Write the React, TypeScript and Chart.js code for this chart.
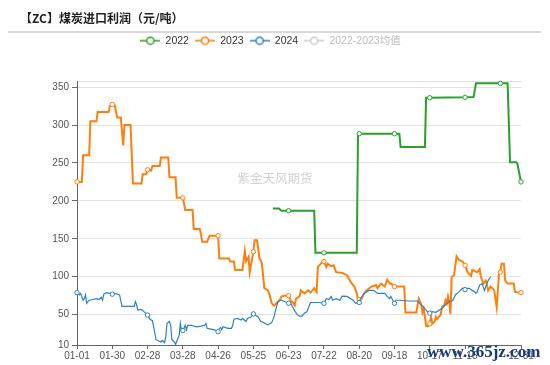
import React, { useEffect, useRef } from 'react';
import { Chart, registerables } from 'chart.js';

Chart.register(...registerables);

const titleText = '【ZC】煤炭进口利润（元/吨）';
const seriesNames = ['2022', '2023', '2024', '2022-2023均值'];
const seriesColors = ['#2ca02c', '#ff7f0e', '#2f80c0', '#cccccc'];

const xTickDays = [0, 29, 58, 87, 116, 145, 174, 203, 232, 261, 290, 319, 365];
const xTickLabels = ['01-01', '01-30', '02-28', '03-28', '04-26', '05-25', '06-23', '07-22', '08-20', '09-18', '10-17', '11-15', '12-31'];
const yTicks = [10, 50, 100, 150, 200, 250, 300, 350];
const yMin = 10;
const yMax = 358;
const markerDays = [0, 29, 58, 87, 116, 145, 174, 203, 232, 261, 290, 319, 348, 365];

const days2022 = [161, 166, 168, 174, 195, 196, 203, 230, 231, 232, 261, 265, 266, 286, 287, 290, 319, 326, 328, 348, 354, 356, 361, 362, 365];
const values2022 = [190, 190, 187, 187, 187, 131.5, 131.5, 131.5, 288.5, 288.5, 288.5, 288.5, 271, 271, 336, 336, 336.5, 337, 355, 355, 355, 251, 251, 249, 225];

const days2023 = [0, 4, 5, 10, 11, 16, 17, 26, 27, 29, 31, 33, 36, 38, 39, 44, 46, 53, 54, 57, 58, 61, 62, 68, 69, 75, 76, 81, 82, 87, 89, 95, 96, 101, 103, 107, 109, 116, 117, 125, 126, 129, 130, 136, 138, 139, 141, 142, 145, 146, 148, 150, 151, 152, 154, 157, 158, 159, 160, 162, 164, 167, 168, 170, 174, 176, 177, 179, 180, 183, 184, 187, 190, 192, 195, 197, 198, 202, 203, 205, 206, 209, 211, 213, 218, 222, 225, 228, 230, 231, 232, 234, 236, 238, 242, 246, 247, 250, 253, 255, 257, 258, 261, 269, 270, 279, 280, 281, 283, 284, 285, 286, 287, 289, 290, 291, 292, 294, 295, 296, 299, 300, 302, 303, 304, 305, 306, 307, 308, 310, 312, 314, 317, 319, 321, 324, 325, 329, 331, 332, 334, 336, 337, 338, 340, 343, 345, 347, 348, 349, 351, 352, 354, 359, 360, 365];
const values2023 = [225, 225, 260, 260, 305, 305, 317, 317, 325, 327, 326, 310, 310, 273, 300, 300, 223, 223, 235, 235, 241, 240, 246, 246, 257, 257, 231, 231, 204, 204, 188, 188, 163, 163, 146, 146, 154, 154, 124, 124, 120, 120, 109, 109, 134, 120, 126, 106, 133, 148, 148, 124, 122, 117, 85, 82, 78, 72, 65, 62, 65, 70, 74, 75, 75, 67, 67, 62, 71, 74, 82, 78, 82, 79, 85, 80, 113, 120, 120, 113, 117, 114, 115, 106, 105, 102, 93, 87, 78, 69, 70, 71, 78, 82, 87, 89, 85, 91, 87, 96, 91, 91, 87, 87, 53, 53, 63, 71, 63, 53, 58, 47, 35, 35, 38, 47, 38, 41, 47, 44, 50, 60, 63, 69, 65, 74, 67, 51, 100, 102, 127, 122, 120, 115, 106, 101, 109, 106, 110, 100, 91, 95, 89, 82, 87, 82, 60, 106, 106, 117, 117, 95, 91, 91, 80, 79];

const days2024 = [0, 2, 3, 5, 6, 7, 8, 10, 13, 16, 18, 20, 21, 22, 24, 27, 29, 31, 35, 37, 47, 48, 49, 50, 53, 55, 58, 60, 62, 65, 69, 70, 72, 73, 74, 76, 77, 78, 80, 81, 83, 84, 85, 86, 87, 89, 90, 91, 94, 98, 102, 105, 106, 107, 110, 113, 116, 117, 118, 119, 120, 124, 127, 128, 129, 132, 135, 136, 139, 140, 143, 145, 146, 149, 151, 153, 155, 157, 160, 162, 163, 164, 165, 166, 168, 171, 174, 176, 179, 181, 183, 185, 187, 189, 191, 192, 199, 203, 204, 205, 207, 209, 210, 213, 216, 218, 222, 227, 229, 232, 233, 236, 240, 244, 247, 253, 255, 257, 258, 261, 262, 266, 272, 280, 283, 286, 288, 290, 292, 295, 298, 300, 303, 306, 309, 311, 314, 317, 319, 322, 325, 327, 328, 329, 331, 333, 335, 336, 338, 340];
const values2024 = [79, 76, 78, 69, 71, 76, 65, 69, 70, 71, 70, 73, 69, 77, 79, 78, 77, 78, 76, 61, 61, 67, 63, 56, 57, 54, 49.5, 44, 42, 17, 14, 16, 13, 21, 38.5, 41, 36, 17, 14, 11, 19, 23, 38.5, 27.5, 29, 36, 30, 36, 36, 34, 35, 36, 38.5, 32, 31, 30, 27.5, 32, 33, 30, 34, 32, 32, 36, 44, 45, 43, 45, 41, 45, 47, 51, 50, 47, 41, 40, 38, 36.5, 39.5, 47, 54, 60, 67, 68, 69, 67, 65, 64, 55, 50, 48, 48, 52, 54, 62, 66, 66, 65, 68, 71, 70, 74, 69, 71, 69, 74.5, 74, 69, 65, 66, 71, 78, 82, 82, 78, 78, 74, 71, 74, 65, 69, 69, 68, 68, 63, 58, 54, 52, 54, 53, 56, 58, 63, 67, 69, 76, 80, 85, 83, 85, 82, 80, 78, 80, 89, 91, 82, 87, 95, 100];

const toPoints = (days: number[], vals: number[]) => days.map((d, i) => ({ x: d, y: vals[i] }));

const FONT = '"Liberation Sans", "Noto Sans CJK SC", sans-serif';

function makeLegendIcon(color: string) {
  const c = document.createElement('canvas');
  c.width = 20;
  c.height = 10;
  const g = c.getContext('2d')!;
  g.strokeStyle = color;
  g.lineWidth = 1.5;
  g.beginPath();
  g.moveTo(0, 5);
  g.lineTo(20, 5);
  g.stroke();
  g.beginPath();
  g.arc(10, 5, 3.6, 0, Math.PI * 2);
  g.fillStyle = '#fff';
  g.fill();
  g.stroke();
  return c;
}

const decorPlugin = {
  id: 'decor',
  beforeDraw(chart: any) {
    const ctx = chart.ctx;
    ctx.save();
    ctx.strokeStyle = '#d9d9d9';
    ctx.lineWidth = 2;
    ctx.beginPath();
    ctx.moveTo(8, 32);
    ctx.lineTo(541, 32);
    ctx.stroke();
    ctx.restore();
  },
  beforeDatasetsDraw(chart: any) {
    const ctx = chart.ctx;
    ctx.save();
    ctx.font = '12.5px "Noto Sans CJK SC", sans-serif';
    ctx.fillStyle = '#d2d2d2';
    ctx.textAlign = 'center';
    ctx.textBaseline = 'middle';
    ctx.fillText('紫金天风期货', chart.width / 2, 178);
    ctx.restore();
  },
  afterDraw(chart: any) {
    const ctx = chart.ctx;
    ctx.save();
    ctx.font = 'bold 17px "Liberation Serif", serif';
    ctx.fillStyle = '#1a3a80';
    ctx.textAlign = 'left';
    ctx.textBaseline = 'alphabetic';
    ctx.fillText('www.365jz.com', 427, 357);
    ctx.restore();
  },
};

export default function App() {
  const ref = useRef<HTMLCanvasElement | null>(null);

  useEffect(() => {
    if (!ref.current) return;
    const icons = seriesColors.map(makeLegendIcon);
    const pr = (ctx: any) => (ctx.raw && markerDays.includes(ctx.raw.x) ? 2.2 : 0);
    const mk = (i: number, data: any[], width: number, order: number) => ({
      label: seriesNames[i],
      data,
      borderColor: seriesColors[i],
      backgroundColor: seriesColors[i],
      borderWidth: width,
      pointRadius: pr,
      pointHoverRadius: pr,
      pointBackgroundColor: '#fff',
      pointBorderColor: seriesColors[i],
      pointBorderWidth: 1,
      tension: 0,
      fill: false,
      clip: 6,
      order,
    });

    const chart = new Chart(ref.current, {
      type: 'line',
      data: {
        datasets: [
          mk(0, toPoints(days2022, values2022), 2, 3),
          mk(1, toPoints(days2023, values2023), 2, 2),
          mk(2, toPoints(days2024, values2024), 1.2, 1),
          mk(3, [], 2, 4),
        ],
      },
      plugins: [decorPlugin],
      options: {
        animation: false,
        responsive: false,
        events: [],
        layout: { padding: { left: 20, right: 29, top: 0, bottom: 0 } },
        font: { family: FONT },
        plugins: {
          title: {
            display: true,
            text: titleText,
            align: 'start',
            color: '#222',
            font: { size: 12, weight: 'bold', family: '"Noto Sans CJK SC", sans-serif' },
            padding: { top: 11, bottom: 4 },
          },
          subtitle: {
            display: true,
            text: '',
            weight: 500,
            font: { size: 1 },
            padding: { top: 23.9, bottom: 0 },
          } as any,
          legend: {
            display: true,
            position: 'top',
            align: 'center',
            labels: {
              usePointStyle: true,
              pointStyleWidth: 20,
              padding: 6,
              font: { size: 10.5, family: FONT },
              color: '#333',
              generateLabels: (c: any) =>
                c.data.datasets.map((ds: any, i: number) => ({
                  text: ds.label,
                  datasetIndex: i,
                  hidden: false,
                  pointStyle: icons[i],
                  fillStyle: seriesColors[i],
                  strokeStyle: seriesColors[i],
                  lineWidth: 0,
                  fontColor: i === 3 ? '#bdbdbd' : '#333',
                })),
            },
          },
          tooltip: { enabled: false },
        },
        scales: {
          x: {
            type: 'linear',
            min: 0,
            max: 365,
            afterBuildTicks: (scale: any) => {
              scale.ticks = xTickDays.map((v) => ({ value: v }));
            },
            afterFit: (scale: any) => {
              scale.height = 20;
            },
            ticks: {
              autoSkip: false,
              maxRotation: 0,
              minRotation: 0,
              padding: 1,
              color: '#555',
              font: { size: 10, family: FONT },
              callback: (v: any) => {
                const i = xTickDays.indexOf(Number(v));
                return i >= 0 ? xTickLabels[i] : '';
              },
            },
            grid: {
              display: true,
              drawOnChartArea: false,
              drawTicks: true,
              tickLength: 4,
              tickColor: '#666',
            },
            border: { display: true, color: '#666', width: 1 },
          },
          y: {
            type: 'linear',
            min: yMin,
            max: yMax,
            afterBuildTicks: (scale: any) => {
              scale.ticks = [...yTicks, yMax].map((v) => ({ value: v }));
            },
            afterFit: (scale: any) => {
              scale.width = 57;
            },
            ticks: {
              padding: 3,
              color: '#555',
              font: { size: 10, family: FONT },
              callback: (v: any) => (Number(v) === yMax ? '' : String(v)),
            },
            grid: {
              color: '#e3e3e3',
              lineWidth: 1,
              drawTicks: true,
              tickLength: 5,
              tickColor: (ctx: any) => (ctx.tick && ctx.tick.value === yMax ? 'rgba(0,0,0,0)' : '#666'),
            },
            border: { display: true, color: '#666', width: 1 },
          },
        },
      } as any,
    });
    return () => chart.destroy();
  }, []);

  return (
    <div style={{ position: 'absolute', left: 0, top: 0, width: 550, height: 365, background: '#fff' }}>
      <canvas ref={ref} width={550} height={365} style={{ display: 'block', width: 550, height: 365 }} />
    </div>
  );
}
